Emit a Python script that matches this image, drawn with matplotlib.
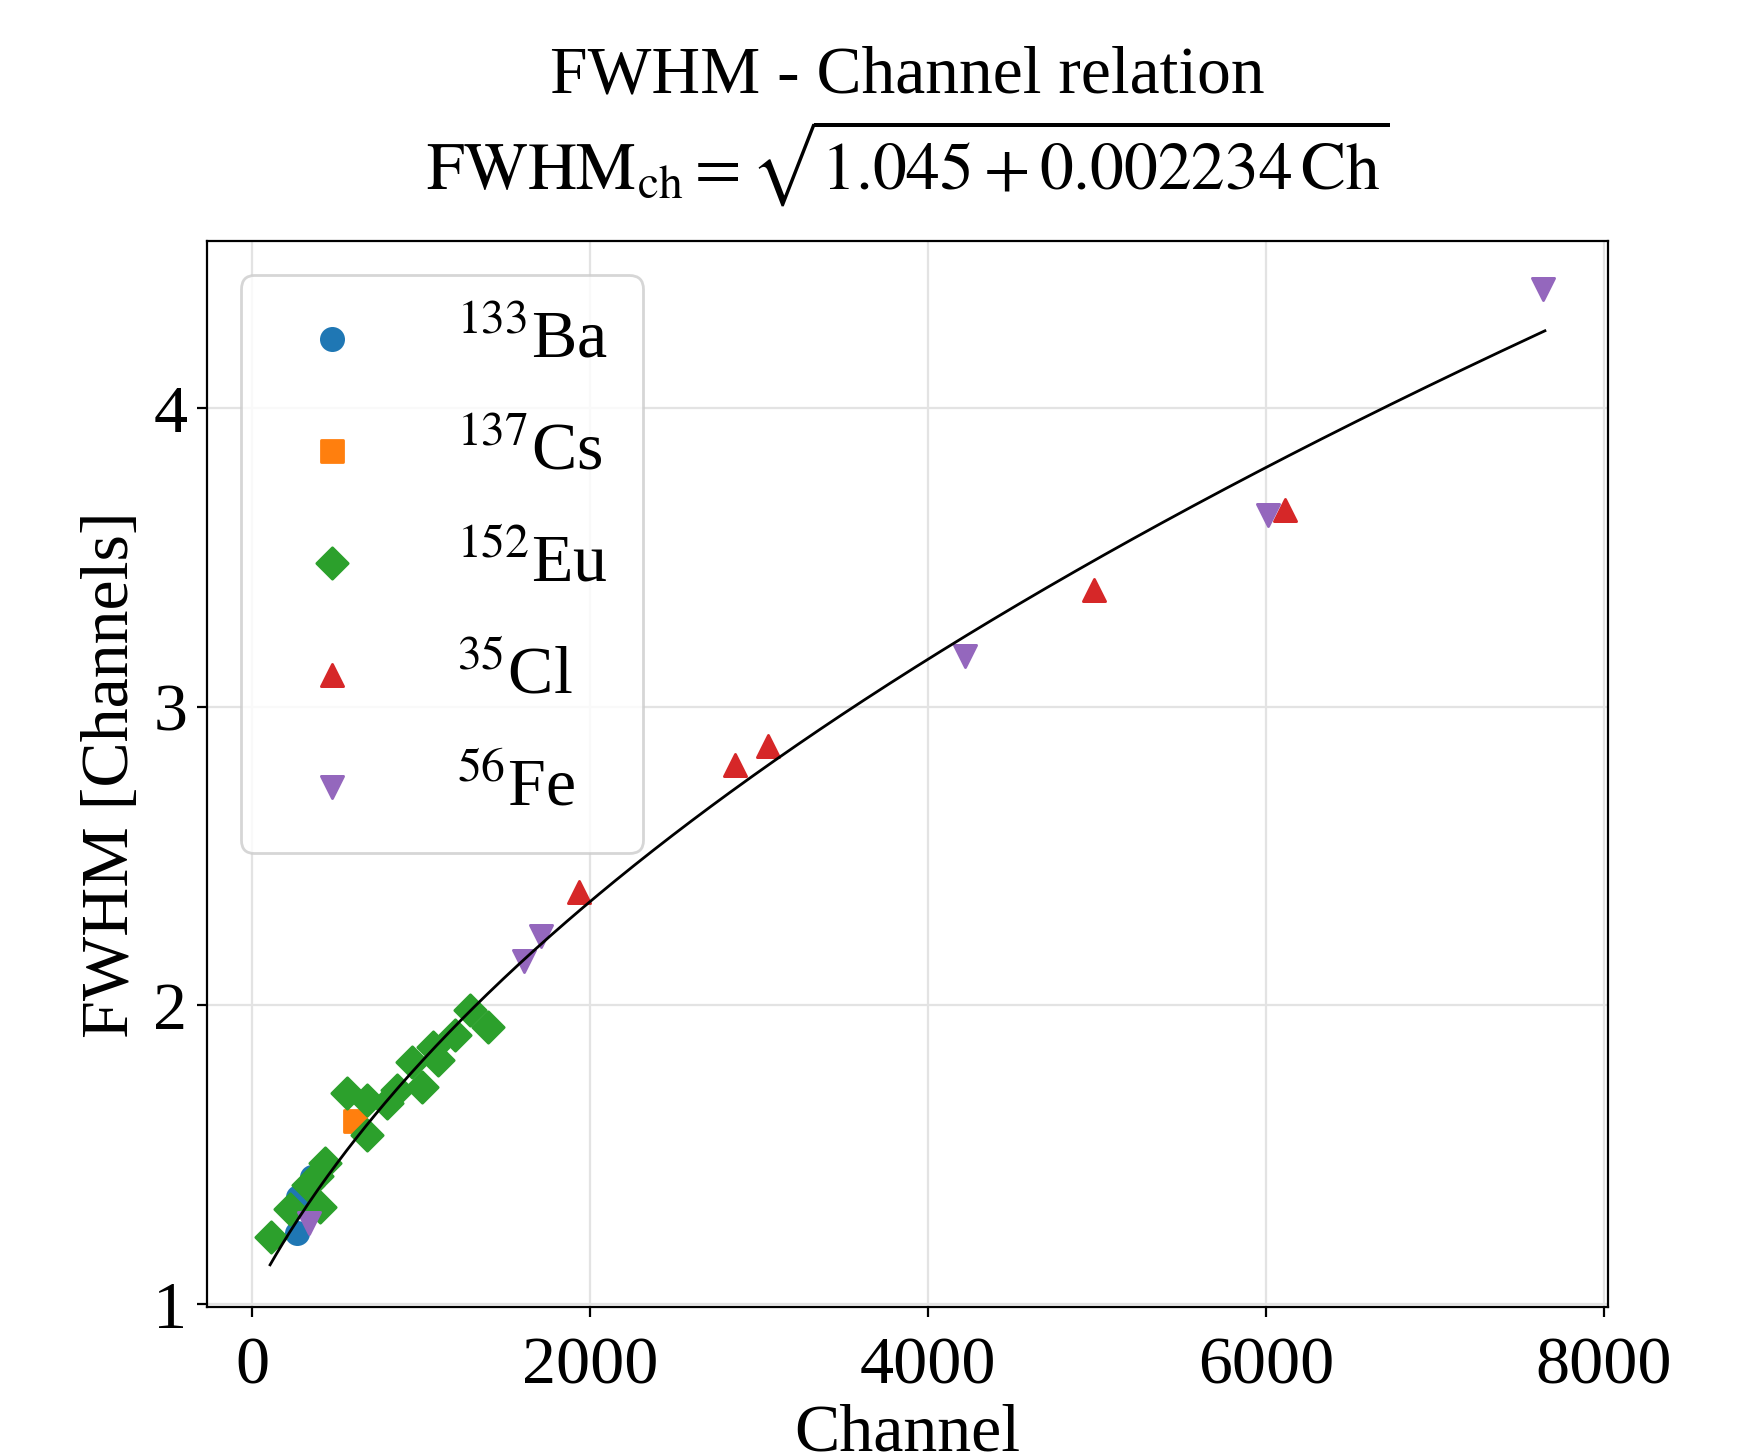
import numpy as np
import matplotlib
matplotlib.use("Agg")
import matplotlib.pyplot as plt

plt.rcParams['font.family'] = ['Liberation Serif', 'DejaVu Serif']
plt.rcParams['mathtext.fontset'] = 'stix'

# data (channel, FWHM in channels)
ba_ch = [263, 270, 355]
ba_fwhm = [1.239, 1.358, 1.425]

cs_ch = [605]
cs_fwhm = [1.614]

eu_ch = [110, 225, 401, 331, 430, 380, 558, 677, 677, 795, 855, 943, 1002,
         1071, 1101, 1200, 1288, 1397]
eu_fwhm = [1.225, 1.317, 1.325, 1.398, 1.471, 1.43, 1.707, 1.683, 1.565,
           1.672, 1.716, 1.811, 1.727, 1.861, 1.817, 1.900, 1.984, 1.928]

cl_ch = [1934, 2855, 3053, 4980, 6112]
cl_fwhm = [2.381, 2.805, 2.869, 3.390, 3.658]

fe_ch = [336, 1605, 1711, 4217, 6013, 7638]
fe_fwhm = [1.272, 2.147, 2.232, 3.170, 3.643, 4.398]

# fit parameters
a, b = 1.045, 0.002234

fig = plt.figure(figsize=(8.715, 7.27), dpi=200)
ax = fig.add_axes([0.1186, 0.1009, 0.8042, 0.7331])

ax.scatter(ba_ch, ba_fwhm, marker='o', s=64, color='tab:blue',
           label=r'$^{133}$Ba', zorder=3)
ax.scatter(cs_ch, cs_fwhm, marker='s', s=64, color='tab:orange',
           label=r'$^{137}$Cs', zorder=3)
ax.scatter(eu_ch, eu_fwhm, marker='D', s=64, color='tab:green',
           label=r'$^{152}$Eu', zorder=3)
ax.scatter(cl_ch, cl_fwhm, marker='^', s=64, color='tab:red',
           label=r'$^{35}$Cl', zorder=3)
ax.scatter(fe_ch, fe_fwhm, marker='v', s=64, color='tab:purple',
           label=r'$^{56}$Fe', zorder=3)

xfit = np.linspace(105, 7650, 400)
ax.plot(xfit, np.sqrt(a + b * xfit), color='black', lw=1.0, zorder=4)

ax.set_xlim(-270, 8026)
ax.set_ylim(0.989, 4.558)
ax.set_xticks([0, 2000, 4000, 6000, 8000])
ax.set_yticks([1, 2, 3, 4])
ax.tick_params(labelsize=24.5)
ax.tick_params(axis='x', pad=7)
ax.grid(True, color='#e3e3e3', lw=0.8)
ax.set_axisbelow(True)

ax.set_xlabel('Channel', fontsize=24.5, labelpad=2)
ax.set_ylabel('FWHM [Channels]', fontsize=24.5)
ax.set_title('FWHM - Channel relation\n'
             r'$\mathrm{FWHM_{ch}} = \sqrt{1.045 + 0.002234\,\mathrm{Ch}}$',
             fontsize=24.3, pad=19, linespacing=1.15)

ax.legend(loc='upper left', fontsize=24.5, borderpad=0.5, labelspacing=0.74,
          handlelength=1.67, handletextpad=1.0)

fig.savefig('out.png', dpi=200)
